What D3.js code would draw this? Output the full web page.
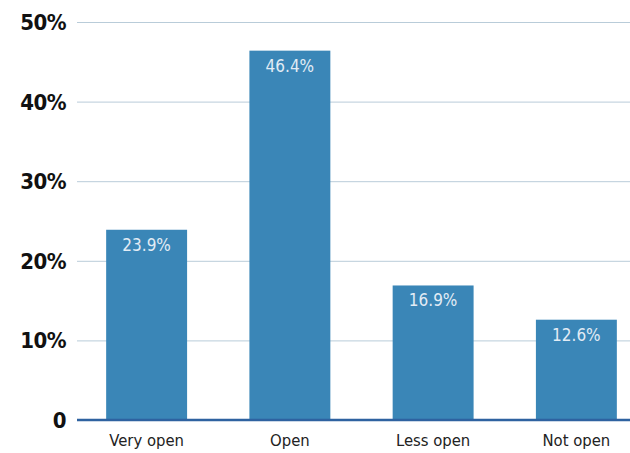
<!DOCTYPE html>
<html><head><meta charset="utf-8">
<script src="https://cdn.jsdelivr.net/npm/d3@7"></script>
<style>body{margin:0;background:#fff}</style>
</head><body>
<svg id="c" width="630" height="453"></svg>
<script>
const categories = ["Very open", "Open", "Less open", "Not open"];
const values = [23.9, 46.4, 16.9, 12.6];
const yTicks = [0, 10, 20, 30, 40, 50];
const yTickLabels = ["0", "10%", "20%", "30%", "40%", "50%"];

const svg = d3.select("#c");
const font = "'DejaVu Sans Condensed', 'Liberation Sans Narrow', sans-serif";
const x = d3.scaleBand().domain(categories).range([75, 648]).paddingInner(0.435).paddingOuter(0.2175);
const y = d3.scaleLinear().domain([0, 50]).range([420, 22]);

// gridlines
svg.append("g").selectAll("line").data(yTicks.filter(d => d > 0)).join("line")
  .attr("x1", 77).attr("x2", 630)
  .attr("y1", d => y(d) + 0.5).attr("y2", d => y(d) + 0.5)
  .attr("stroke", "#b9ccd9").attr("stroke-width", 1);

// y tick labels
svg.append("g").selectAll("text").data(yTicks).join("text")
  .attr("x", 66).attr("y", d => y(d)).attr("dy", "0.36em")
  .attr("text-anchor", "end")
  .attr("font-family", font).attr("font-weight", "bold").attr("font-size", 22)
  .attr("letter-spacing", -0.5)
  .attr("fill", "#111").text((d, i) => yTickLabels[i]);

// bars
svg.append("g").selectAll("rect").data(values).join("rect")
  .attr("x", (d, i) => x(categories[i])).attr("width", x.bandwidth())
  .attr("y", d => y(d)).attr("height", d => y(0) - y(d))
  .attr("fill", "#3a86b7");

// value labels
svg.append("g").selectAll("text").data(values).join("text")
  .attr("x", (d, i) => x(categories[i]) + x.bandwidth() / 2)
  .attr("y", d => y(d) + 21)
  .attr("text-anchor", "middle")
  .attr("font-family", font).attr("font-size", 17)
  .attr("fill", "#e2ecf5").text(d => d.toFixed(1) + "%");

// baseline
svg.append("line").attr("x1", 77).attr("x2", 630)
  .attr("y1", y(0)).attr("y2", y(0))
  .attr("stroke", "#2e62a0").attr("stroke-width", 2.5);

// category labels
svg.append("g").selectAll("text").data(categories).join("text")
  .attr("x", d => x(d) + x.bandwidth() / 2).attr("y", 446)
  .attr("text-anchor", "middle")
  .attr("font-family", font).attr("font-size", 16.5)
  .attr("fill", "#222").text(d => d);
</script>
</body></html>
